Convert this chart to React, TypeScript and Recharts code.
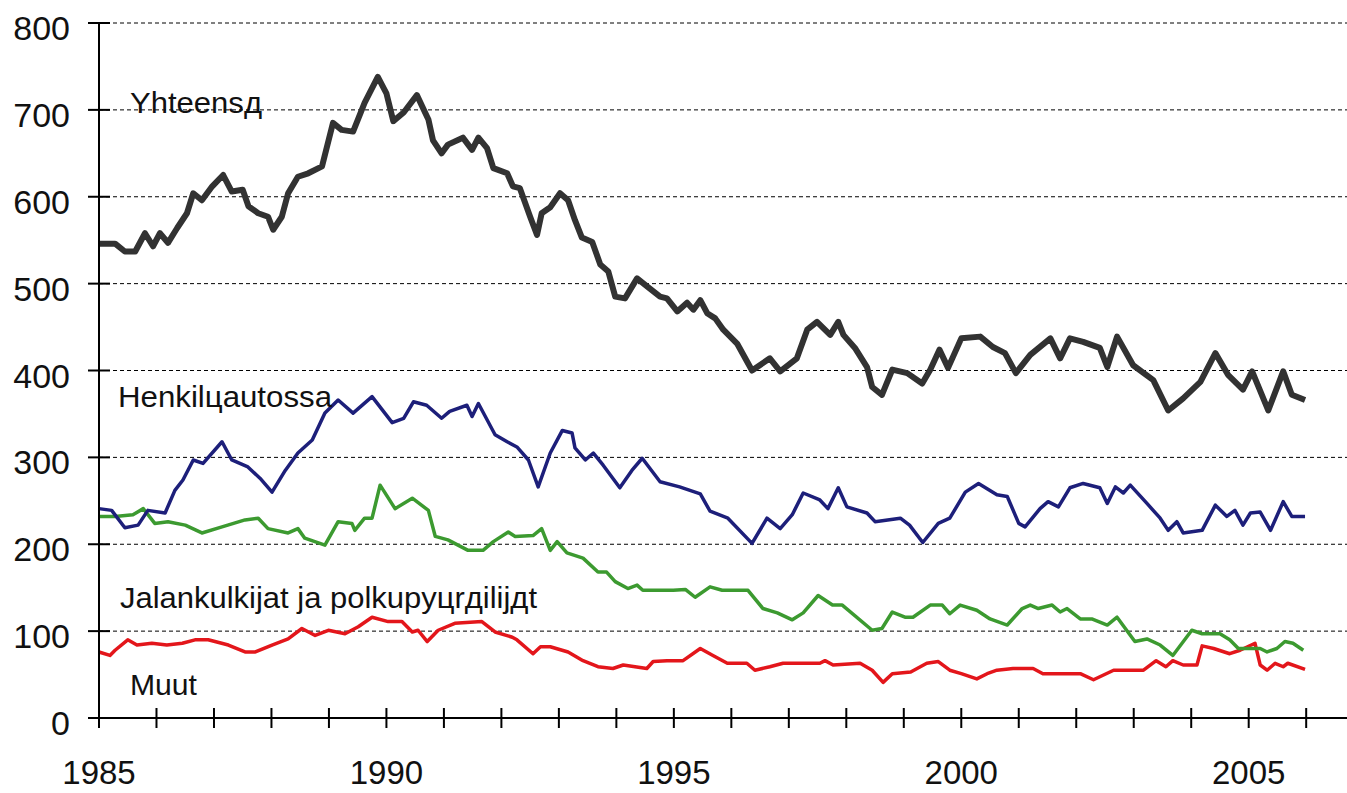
import { LineChart, Line, XAxis, YAxis, CartesianGrid } from "recharts";

const yearTicks = [
  1985, 1986, 1987, 1988, 1989, 1990, 1991, 1992, 1993, 1994, 1995,
  1996, 1997, 1998, 1999, 2000, 2001, 2002, 2003, 2004, 2005, 2006,
];
const valueTicks = [0, 100, 200, 300, 400, 500, 600, 700, 800];

// Yhteensä
const totalYears = [
  1985.0, 1985.28, 1985.45, 1985.63, 1985.8, 1985.94, 1986.06, 1986.2, 1986.36, 1986.53,
  1986.64, 1986.79, 1986.97, 1987.16, 1987.31, 1987.5, 1987.6, 1987.77, 1987.94, 1988.03,
  1988.18, 1988.29, 1988.46, 1988.64, 1988.88, 1989.07, 1989.22, 1989.42, 1989.62, 1989.85,
  1990.0, 1990.12, 1990.3, 1990.53, 1990.73, 1990.81, 1990.96, 1991.07, 1991.33, 1991.49,
  1991.6, 1991.75, 1991.86, 1992.1, 1992.2, 1992.32, 1992.5, 1992.62, 1992.7, 1992.85,
  1993.02, 1993.16, 1993.28, 1993.4, 1993.58, 1993.72, 1993.86, 1993.98, 1994.15, 1994.36,
  1994.55, 1994.76, 1994.88, 1995.06, 1995.23, 1995.34, 1995.46, 1995.58, 1995.72, 1995.86,
  1996.1, 1996.36, 1996.67, 1996.85, 1997.14, 1997.32, 1997.49, 1997.72, 1997.86, 1997.95,
  1998.15, 1998.36, 1998.45, 1998.62, 1998.8, 1999.06, 1999.32, 1999.46, 1999.62, 1999.77,
  2000.0, 2000.33, 2000.55, 2000.76, 2000.95, 2001.2, 2001.55, 2001.72, 2001.89, 2002.12,
  2002.41, 2002.54, 2002.71, 2002.99, 2003.34, 2003.6, 2003.86, 2004.16, 2004.42, 2004.64,
  2004.9, 2005.06, 2005.34, 2005.6, 2005.75, 2005.98,
];
const totalValues = [
  546, 546, 537, 537, 558, 543, 558, 547, 564, 581,
  604, 596, 612, 625, 606, 608, 589, 581, 577, 562,
  577, 604, 623, 627, 635, 685, 677, 675, 708, 738,
  719, 687, 697, 717, 689, 665, 650, 660, 668, 654,
  668, 656, 633, 627, 612, 610, 577, 556, 581, 588,
  604, 596, 573, 553, 548, 522, 514, 485, 483, 506,
  496, 485, 483, 468, 478, 470, 481, 466, 460, 447,
  431, 400, 414, 399, 414, 447, 456, 441, 456, 441,
  426, 404, 381, 372, 401, 397, 385, 401, 424, 403,
  437, 439, 427, 420, 397, 418, 437, 414, 437, 433,
  426, 404, 439, 406, 389, 354, 368, 387, 420, 395,
  378, 399, 354, 399, 372, 366,
];

// Henkilöautossa
const carYears = [
  1985.0, 1985.22, 1985.45, 1985.68, 1985.85, 1986.15, 1986.32, 1986.46, 1986.64, 1986.81,
  1987.14, 1987.31, 1987.59, 1987.8, 1988.01, 1988.24, 1988.46, 1988.71, 1988.93, 1989.16,
  1989.42, 1989.75, 1990.1, 1990.3, 1990.47, 1990.7, 1990.96, 1991.1, 1991.4, 1991.49,
  1991.6, 1991.89, 1992.1, 1992.27, 1992.47, 1992.64, 1992.85, 1993.06, 1993.23, 1993.28,
  1993.46, 1993.6, 1993.77, 1994.06, 1994.27, 1994.45, 1994.76, 1995.1, 1995.46, 1995.63,
  1995.94, 1996.36, 1996.62, 1996.85, 1997.06, 1997.25, 1997.54, 1997.68, 1997.86, 1998.01,
  1998.36, 1998.5, 1998.94, 1999.1, 1999.33, 1999.6, 1999.8, 2000.07, 2000.3, 2000.62,
  2000.8, 2001.0, 2001.11, 2001.37, 2001.51, 2001.69, 2001.89, 2002.12, 2002.41, 2002.54,
  2002.68, 2002.82, 2002.94, 2003.23, 2003.46, 2003.6, 2003.75, 2003.86, 2004.19, 2004.42,
  2004.62, 2004.76, 2004.9, 2005.03, 2005.2, 2005.38, 2005.6, 2005.75, 2005.98,
];
const carValues = [
  241, 239, 219, 222, 239, 236, 262, 274, 297, 293,
  318, 297, 289, 276, 260, 285, 305, 320, 351, 366,
  351, 370, 340, 345, 364, 360, 345, 353, 360, 347,
  362, 326, 318, 312, 297, 266, 305, 331, 328, 311,
  297, 305, 291, 265, 285, 299, 272, 266, 258, 238,
  230, 201, 230, 218, 234, 259, 251, 241, 265, 243,
  236, 226, 230, 222, 202, 224, 230, 260, 270, 257,
  255, 224, 220, 241, 249, 243, 265, 270, 265, 247,
  266, 259, 268, 247, 230, 216, 226, 213, 216, 245,
  232, 239, 222, 236, 237, 216, 249, 232, 232,
];

// Jalankulkijat ja polkupyöräilijät
const walkYears = [
  1985.0, 1985.28, 1985.59, 1985.77, 1985.97, 1986.2, 1986.5, 1986.79, 1987.14, 1987.54,
  1987.77, 1987.94, 1988.29, 1988.46, 1988.58, 1988.93, 1989.16, 1989.4, 1989.45, 1989.62,
  1989.75, 1989.89, 1990.15, 1990.45, 1990.73, 1990.85, 1991.07, 1991.42, 1991.68, 1991.86,
  1992.12, 1992.24, 1992.55, 1992.7, 1992.85, 1992.97, 1993.14, 1993.42, 1993.68, 1993.83,
  1993.98, 1994.2, 1994.36, 1994.46, 1994.99, 1995.2, 1995.37, 1995.63, 1995.84, 1996.29,
  1996.55, 1996.8, 1997.06, 1997.25, 1997.51, 1997.76, 1997.93, 1998.45, 1998.62, 1998.8,
  1999.02, 1999.16, 1999.46, 1999.67, 1999.8, 1999.98, 2000.27, 2000.5, 2000.8, 2001.06,
  2001.2, 2001.34, 2001.58, 2001.72, 2001.84, 2002.07, 2002.27, 2002.54, 2002.71, 2003.02,
  2003.23, 2003.46, 2003.68, 2004.01, 2004.19, 2004.5, 2004.67, 2004.82, 2005.2, 2005.32,
  2005.49, 2005.63, 2005.77, 2005.95,
];
const walkValues = [
  232, 232, 234, 241, 224, 226, 222, 213, 220, 228,
  230, 218, 213, 218, 207, 199, 226, 224, 216, 230,
  230, 268, 241, 253, 239, 209, 205, 193, 193, 203,
  214, 209, 210, 218, 193, 203, 190, 184, 168, 168,
  157, 149, 153, 147, 147, 148, 139, 151, 147, 147,
  126, 121, 113, 121, 141, 130, 130, 101, 103, 122,
  116, 116, 130, 130, 120, 130, 124, 114, 107, 126,
  130, 126, 130, 122, 126, 114, 114, 107, 116, 88,
  91, 84, 72, 101, 97, 97, 90, 80, 80, 76,
  80, 88, 86, 78,
];

// Muut
const otherYears = [
  1985.0, 1985.19, 1985.28, 1985.5, 1985.66, 1985.92, 1986.18, 1986.45, 1986.67, 1986.9,
  1987.25, 1987.54, 1987.72, 1988.01, 1988.29, 1988.53, 1988.76, 1988.99, 1989.28, 1989.51,
  1989.75, 1990.03, 1990.27, 1990.45, 1990.55, 1990.71, 1990.9, 1991.19, 1991.66, 1991.89,
  1992.19, 1992.27, 1992.55, 1992.68, 1992.85, 1993.16, 1993.42, 1993.68, 1993.94, 1994.12,
  1994.53, 1994.64, 1994.88, 1995.16, 1995.46, 1995.68, 1995.93, 1996.27, 1996.41, 1996.67,
  1996.9, 1997.54, 1997.63, 1997.77, 1998.24, 1998.45, 1998.64, 1998.8, 1999.12, 1999.4,
  1999.6, 1999.8, 2000.0, 2000.27, 2000.45, 2000.62, 2000.9, 2001.25, 2001.42, 2002.07,
  2002.3, 2002.65, 2003.17, 2003.39, 2003.56, 2003.68, 2003.86, 2004.1, 2004.19, 2004.39,
  2004.67, 2004.85, 2005.11, 2005.2, 2005.32, 2005.46, 2005.6, 2005.68, 2005.98,
];
const otherValues = [
  76, 72, 78, 90, 84, 86, 84, 86, 90, 90,
  84, 76, 76, 84, 91, 103, 95, 101, 97, 105,
  116, 111, 111, 99, 101, 88, 101, 109, 111, 99,
  93, 90, 74, 82, 82, 76, 66, 59, 57, 61,
  57, 65, 66, 66, 80, 72, 63, 63, 55, 59,
  63, 63, 66, 61, 63, 55, 41, 51, 53, 63,
  65, 55, 51, 45, 51, 55, 57, 57, 51, 51,
  44, 55, 55, 66, 59, 66, 61, 61, 83, 80,
  74, 78, 86, 61, 55, 63, 59, 63, 56,
];

const toPoints = (years: number[], values: number[]) =>
  years.map((year, i) => ({ year, v: values[i] }));

const FONT = "'Liberation Sans', Arial, sans-serif";

function YTick({ x, y, payload }: any) {
  return (
    <g>
      <line x1={x - 11} x2={x + 11} y1={y} y2={y} stroke="#000" strokeWidth={2} />
      <text x={x - 29} y={y + 17} textAnchor="end" fontSize={34} fill="#111" fontFamily={FONT}>
        {payload.value}
      </text>
    </g>
  );
}

function XTick({ x, y, payload }: any) {
  const showLabel = payload.value % 5 === 0;
  return (
    <g>
      <line x1={x} x2={x} y1={y - 10} y2={y + 10} stroke="#000" strokeWidth={2} />
      {showLabel && (
        <text x={x} y={y + 66} textAnchor="middle" fontSize={33} fill="#111" fontFamily={FONT}>
          {payload.value}
        </text>
      )}
    </g>
  );
}

export default function App() {
  return (
    <div style={{ position: "absolute", left: 0, top: 0, width: 1347, height: 793, background: "#fff" }}>
      <LineChart width={1347} height={793} margin={{ top: 23, right: 0, bottom: 0, left: 0 }}>
        <CartesianGrid vertical={false} stroke="#000" strokeDasharray="4 3" strokeWidth={1} />
        <XAxis
          dataKey="year"
          type="number"
          domain={[1985, 2006.71]}
          ticks={yearTicks}
          interval={0}
          height={75}
          tickSize={0}
          tickMargin={0}
          tickLine={false}
          axisLine={{ stroke: "#000", strokeWidth: 2 }}
          tick={<XTick />}
          allowDuplicatedCategory={false}
        />
        <YAxis
          type="number"
          domain={[0, 800]}
          ticks={valueTicks}
          interval={0}
          width={99}
          tickSize={0}
          tickMargin={0}
          tickLine={false}
          axisLine={{ stroke: "#000", strokeWidth: 2 }}
          tick={<YTick />}
        />
        <Line data={toPoints(otherYears, otherValues)} dataKey="v" stroke="#e3161b" strokeWidth={3.5} dot={false} isAnimationActive={false} strokeLinejoin="round" />
        <Line data={toPoints(walkYears, walkValues)} dataKey="v" stroke="#3c9a30" strokeWidth={3.5} dot={false} isAnimationActive={false} strokeLinejoin="round" />
        <Line data={toPoints(carYears, carValues)} dataKey="v" stroke="#1d1f7a" strokeWidth={3.5} dot={false} isAnimationActive={false} strokeLinejoin="round" />
        <Line data={toPoints(totalYears, totalValues)} dataKey="v" stroke="#323232" strokeWidth={6} dot={false} isAnimationActive={false} strokeLinejoin="round" />
      </LineChart>
      <svg width={1347} height={793} style={{ position: "absolute", left: 0, top: 0, pointerEvents: "none" }}>
        <g fontFamily={FONT} fontSize={30} fill="#111">
          <text x={130} y={113} textLength={132} lengthAdjust="spacingAndGlyphs">Yhteensд</text>
          <text x={118} y={407} textLength={214} lengthAdjust="spacingAndGlyphs">Henkilцautossa</text>
          <text x={120} y={608} textLength={417} lengthAdjust="spacingAndGlyphs">Jalankulkijat ja polkupyцrдilijдt</text>
          <text x={130} y={695} textLength={67} lengthAdjust="spacingAndGlyphs">Muut</text>
        </g>
      </svg>
    </div>
  );
}
